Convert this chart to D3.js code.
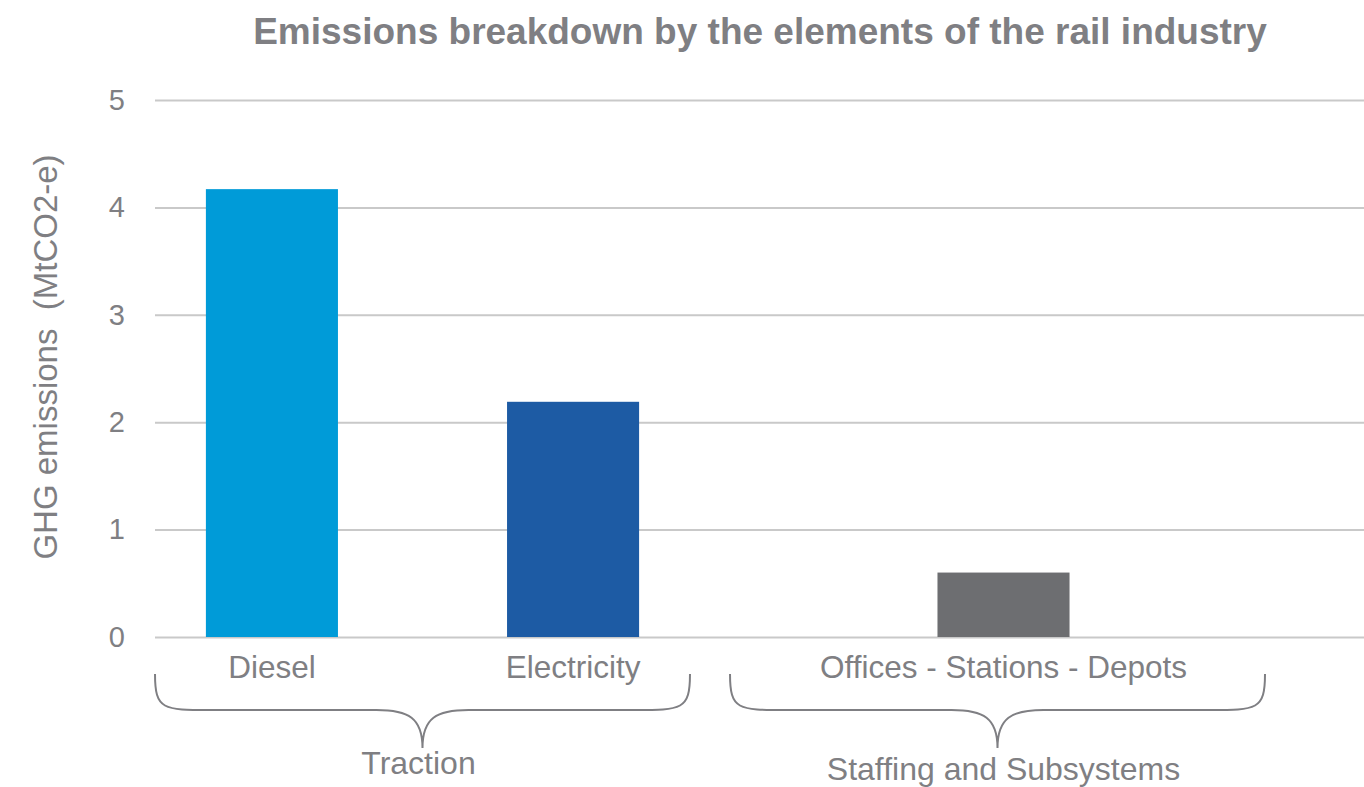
<!DOCTYPE html>
<html>
<head>
<meta charset="utf-8">
<script src="https://cdn.jsdelivr.net/npm/d3@7"></script>
<style>
  html, body { margin: 0; padding: 0; background: #fff; }
  svg { display: block; font-family: "Liberation Sans", Arial, sans-serif; }
</style>
</head>
<body>
<svg id="chart" width="1364" height="787"></svg>
<script>
// Emissions by element of the rail industry (MtCO2-e)
const groups = ["Traction", "Staffing and Subsystems"];
const categories = ["Diesel", "Electricity", "Offices - Stations - Depots"];
const categoryGroup = ["Traction", "Traction", "Staffing and Subsystems"];
const values = [4.17, 2.19, 0.6];
const barColors = ["#009bd8", "#1d5ba4", "#6d6e71"];
const yTicks = [0, 1, 2, 3, 4, 5];

const title = "Emissions breakdown by the elements of the rail industry";
const yTitle = "GHG emissions\u00a0\u00a0(MtCO2-e)";

const plot = { left: 155, right: 1364, top: 100, bottom: 637 };
const textColor = "#7f7f83";

const svg = d3.select("#chart");

const y = d3.scaleLinear().domain([0, 5]).range([plot.bottom, plot.top]);

// Outer scale: one band per group; inner scales: one band per category in a group
const x0 = d3.scaleBand().domain(groups).range([155, 1265]).paddingInner(0.0696).paddingOuter(0);
const inner = {};
groups.forEach(g => {
  const cats = categories.filter((c, i) => categoryGroup[i] === g);
  inner[g] = d3.scaleBand().domain(cats)
    .range([x0(g), x0(g) + x0.bandwidth()])
    .paddingInner(0.5615).paddingOuter(0.169);
});
// Common bar width taken from the group holding the most categories
const barWidth = d3.min(groups.map(g => inner[g].domain().length > 1 ? inner[g].bandwidth() : Infinity));
const centerX = c => {
  const g = categoryGroup[categories.indexOf(c)];
  const s = inner[g];
  return s.domain().length > 1 ? s(c) + s.bandwidth() / 2 : x0(g) + x0.bandwidth() / 2 + 6;
};

// Gridlines and value ticks
const yAxis = d3.axisLeft(y).tickValues(yTicks).tickFormat(d3.format("d"))
  .tickSize(-(plot.right - plot.left)).tickPadding(30);
const gy = svg.append("g").attr("transform", `translate(${plot.left},0)`).call(yAxis);
gy.select(".domain").remove();
gy.selectAll(".tick line").attr("stroke", "#c9c9c9").attr("stroke-width", 2);
gy.selectAll(".tick text")
  .attr("fill", textColor).attr("font-size", 29).attr("font-family", "Liberation Sans, Arial, sans-serif");

// Bars
svg.append("g").selectAll("rect").data(categories).join("rect")
  .attr("x", c => centerX(c) - barWidth / 2)
  .attr("width", barWidth)
  .attr("y", (c, i) => y(values[i]))
  .attr("height", (c, i) => y(0) - y(values[i]))
  .attr("fill", (c, i) => barColors[i]);

// Category labels
svg.append("g").selectAll("text").data(categories).join("text")
  .attr("x", c => centerX(c))
  .attr("y", 678)
  .attr("text-anchor", "middle")
  .attr("fill", textColor)
  .attr("font-size", 31.5)
  .text(c => c);

// Curly braces under each group
const braceTop = 674, braceFlat = 710, braceTip = 748;
const brace = (a, b) => {
  const m = (a + b) / 2, r = 36;
  return `M${a},${braceTop} C${a},${braceFlat} ${a + 8},${braceFlat} ${a + r + 20},${braceFlat}` +
    ` L${m - r - 10},${braceFlat} C${m - 14},${braceFlat} ${m},${braceFlat + 8} ${m},${braceTip}` +
    ` C${m},${braceFlat + 8} ${m + 14},${braceFlat} ${m + r + 10},${braceFlat}` +
    ` L${b - r - 20},${braceFlat} C${b - 8},${braceFlat} ${b},${braceFlat} ${b},${braceTop}`;
};
svg.append("g").selectAll("path").data(groups).join("path")
  .attr("d", g => brace(x0(g), x0(g) + x0.bandwidth()))
  .attr("fill", "none").attr("stroke", "#7f7f83").attr("stroke-width", 2);

// Group labels
svg.append("g").selectAll("text").data(groups).join("text")
  .attr("x", g => x0(g) + x0.bandwidth() / 2 + (g === "Traction" ? -4 : 6))
  .attr("y", (g, i) => i === 0 ? 774 : 780)
  .attr("text-anchor", "middle")
  .attr("fill", textColor)
  .attr("font-size", 32)
  .text(g => g);

// Title
svg.append("text")
  .attr("x", 760).attr("y", 44)
  .attr("text-anchor", "middle")
  .attr("fill", textColor)
  .attr("font-size", 37).attr("font-weight", "bold")
  .text(title);

// Y axis title
svg.append("text")
  .attr("transform", `translate(57,357) rotate(-90)`)
  .attr("text-anchor", "middle")
  .attr("fill", textColor)
  .attr("font-size", 33)
  .text(yTitle);
</script>
</body>
</html>
